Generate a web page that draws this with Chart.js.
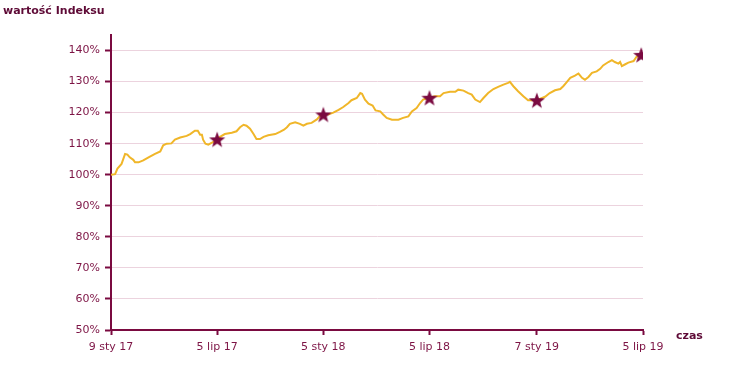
<!DOCTYPE html>
<html lang="pl">
  <head>
    <meta charset="UTF-8" />
    <title>wartość Indeksu</title>
    <style>
      body { margin: 0; background: #fff; }
      #wrap { width: 742px; height: 370px; }
    </style>
  </head>
  <body>
    <div id="wrap"><canvas id="myChart"></canvas></div>
  </body>
  <script src="https://cdn.jsdelivr.net/npm/chart.js@4"></script>
  <script>
    // x = dni od 9 sty 17 (przybliżone), y = wartość indeksu w %
    var days = [0, 7, 11, 18, 24, 28, 32, 38, 41, 47, 55, 64, 75, 84, 89, 95, 103, 109, 118, 129, 135, 143, 148, 152, 155, 157, 161, 166, 172, 181,
      186, 194, 206, 214, 220, 226, 231, 237, 243, 248, 254, 260, 268, 280, 288, 295, 300, 305, 314, 322, 328, 334, 342, 351, 356, 362,
      370, 379, 388, 396, 405, 410, 419, 425, 428, 433, 439, 446, 451, 459, 464, 470, 479, 490, 498, 507, 513, 521, 527, 532, 543,
      552, 561, 567, 578, 587, 592, 601, 609, 615, 621, 629, 635, 643, 652, 660, 669, 677, 680, 686, 694, 703, 711, 726,
      731, 740, 748, 757, 766, 771, 777, 783, 791, 797, 803, 808, 814, 820, 828, 834, 839, 848, 854, 859, 865, 868, 871, 876, 882, 891, 896, 904];
    var values = [100.0, 100.2, 102.0, 103.5, 106.7, 106.5, 105.6, 104.8, 104.0, 104.0, 104.6, 105.6, 106.7, 107.5, 109.5, 110.0, 110.1, 111.3, 112.0, 112.5, 113.1, 114.2, 114.2, 112.9, 112.9, 111.3, 110.0, 109.7, 110.3, 111.4,
      112.2, 113.1, 113.5, 114.0, 115.3, 116.1, 115.8, 114.8, 113.1, 111.5, 111.5, 112.2, 112.7, 113.1, 113.8, 114.5, 115.3, 116.4, 116.9, 116.4, 115.8, 116.4, 116.7, 117.8, 118.9, 119.4,
      119.4, 120.0, 120.9, 121.8, 123.1, 124.0, 124.7, 126.3, 126.1, 124.2, 122.9, 122.3, 120.7, 120.4, 119.4, 118.3, 117.7, 117.7, 118.3, 118.8, 120.4, 121.5, 123.1, 124.2, 124.8,
      125.3, 125.3, 126.3, 126.7, 126.7, 127.4, 127.1, 126.3, 125.8, 124.2, 123.4, 124.7, 126.3, 127.6, 128.3, 129.0, 129.6, 129.9, 128.5, 126.9, 125.3, 124.0, 124.0,
      124.4, 125.1, 126.3, 127.2, 127.6, 128.5, 129.8, 131.2, 131.9, 132.6, 131.2, 130.6, 131.5, 132.8, 133.3, 134.1, 135.2, 136.3, 136.9, 136.3, 135.8, 136.3, 135.0, 135.5, 136.1, 136.6, 138.0, 138.6];

    var starDays = [181, 362, 543, 726, 904];
    var starValues = [111.4, 119.4, 124.8, 124.0, 138.6];

    var tickDays = [0, 181, 362, 543, 726, 907];
    var tickLabels = ["9 sty 17", "5 lip 17", "5 sty 18", "5 lip 18", "7 sty 19", "5 lip 19"];
    var yTicks = [50, 60, 70, 80, 90, 100, 110, 120, 130, 140];

    var maroon = "#7a0a40";
    var textCol = "#7d1445";

    // gwiazdka jako obrazek punktu
    function makeStar() {
      var c = document.createElement("canvas");
      c.width = 18; c.height = 18;
      var g = c.getContext("2d");
      g.beginPath();
      for (var i = 0; i < 10; i++) {
        var r = i % 2 === 0 ? 8.5 : 3.5;
        var a = -Math.PI / 2 + i * Math.PI / 5;
        var px = 9 + r * Math.cos(a), py = 9.8 + r * Math.sin(a);
        if (i === 0) g.moveTo(px, py); else g.lineTo(px, py);
      }
      g.closePath();
      g.fillStyle = maroon;
      g.fill();
      return c;
    }
    var star = makeStar();

    var labelsPlugin = {
      id: "labelsPlugin",
      afterDraw: function (chart) {
        var ctx = chart.ctx;
        ctx.save();
        ctx.fillStyle = "#5e0a36";
        ctx.font = "bold 11px 'DejaVu Sans'";
        ctx.textBaseline = "middle";
        ctx.textAlign = "left";
        ctx.fillText("wartość Indeksu", 3, 11);
        ctx.fillText("czas", 676, 336);
        ctx.restore();
      }
    };

    const config = {
      type: "line",
      data: {
        datasets: [
          {
            label: "gwiazdki",
            data: starDays.map(function (d, i) { return { x: d, y: starValues[i] }; }),
            showLine: false,
            pointStyle: star,
            pointRadius: 8,
            pointHoverRadius: 8,
          },
          {
            label: "indeks",
            data: days.map(function (d, i) { return { x: d, y: values[i] }; }),
            borderColor: "#f0b629",
            borderWidth: 2,
            pointRadius: 0,
            tension: 0,
            fill: false,
          },
        ],
      },
      options: {
        responsive: true,
        maintainAspectRatio: false,
        animation: false,
        layout: { padding: { top: 35, right: 99, left: 0, bottom: 0 } },
        plugins: { legend: { display: false }, tooltip: { enabled: false } },
        scales: {
          x: {
            type: "linear",
            min: 0,
            max: 907,
            afterBuildTicks: function (s) { s.ticks = tickDays.map(function (v) { return { value: v }; }); },
            afterFit: function (s) { s.height = 40; },
            border: { color: maroon, width: 2 },
            grid: { drawOnChartArea: false, tickColor: maroon, tickLength: 5, tickWidth: 2 },
            ticks: {
              autoSkip: false,
              maxRotation: 0,
              padding: 6,
              color: textCol,
              font: { family: "DejaVu Sans", size: 11 },
              callback: function (v, i) { return tickLabels[i]; },
            },
          },
          y: {
            min: 50,
            max: 145,
            afterBuildTicks: function (s) { s.ticks = yTicks.map(function (v) { return { value: v }; }); },
            afterFit: function (s) { s.width = 111; },
            border: { color: maroon, width: 2 },
            grid: { color: "#ecd3de", tickColor: maroon, tickLength: 6, tickWidth: 2 },
            ticks: {
              padding: 5,
              color: textCol,
              font: { family: "DejaVu Sans", size: 11 },
              callback: function (v) { return v + "%"; },
            },
          },
        },
      },
      plugins: [labelsPlugin],
    };

    var myChart = new Chart(document.getElementById("myChart"), config);
  </script>
</html>
